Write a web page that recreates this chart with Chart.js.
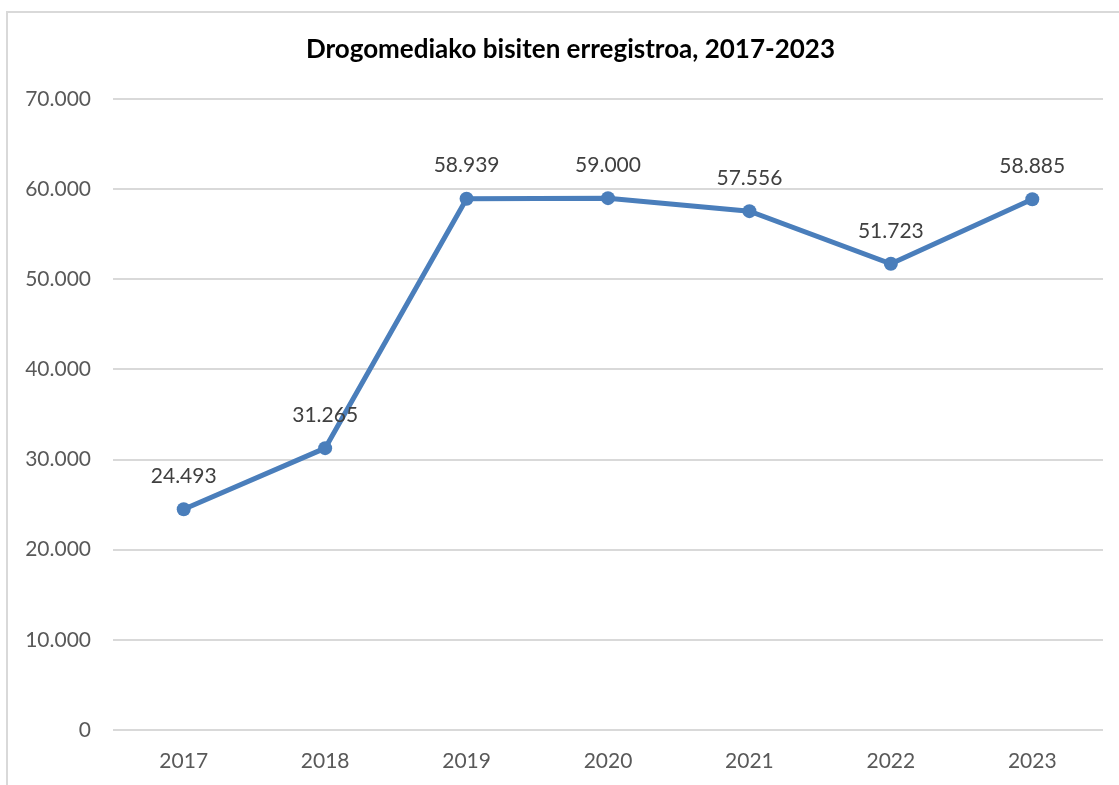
<!DOCTYPE html>
<html lang="eu">
<head>
    <meta charset="UTF-8">
    <title>Drogomediako bisiten erregistroa, 2017-2023</title>
    <script src="https://cdn.jsdelivr.net/npm/chart.js"></script>
    <style>
        html, body {
            margin: 0;
            padding: 0;
            background: #fff;
            overflow: hidden;
        }

        .frame {
            position: absolute;
            left: 6px;
            top: 11px;
            width: 1300px;
            height: 1000px;
            border: 2px solid #d9d9d9;
        }

        .wrap {
            position: absolute;
            left: 0;
            top: 0;
            width: 1119px;
            height: 785px;
        }
    </style>
</head>

<body>
    <div class="frame"></div>
    <div class="wrap">
        <canvas id="bisitakChart" width="1119" height="785"></canvas>
    </div>

    <script>
        const urteak = ['2017', '2018', '2019', '2020', '2021', '2022', '2023'];
        const bisitak = [24493, 31265, 58939, 59000, 57556, 51723, 58885];
        const izenburua = 'Drogomediako bisiten erregistroa, 2017-2023';

        const letra = 'Lato, "Open Sans", sans-serif';
        const urdina = '#4a7ebb';

        // 70000 -> "70.000"
        function formatua(n) {
            return String(Math.round(n)).replace(/\B(?=(\d{3})+(?!\d))/g, '.');
        }

        // izenburua (markoaren erdian) eta balioak puntuen gainean
        const etiketak = {
            id: 'etiketak',
            afterDatasetsDraw(chart) {
                const ctx = chart.ctx;
                const meta = chart.getDatasetMeta(0);
                ctx.save();
                ctx.textAlign = 'center';
                ctx.textBaseline = 'middle';

                ctx.font = 'bold 26px ' + letra;
                ctx.fillStyle = '#000';
                ctx.fillText(izenburua, (6 + chart.width + 16) / 2, 50);

                ctx.font = '21px ' + letra;
                ctx.fillStyle = '#404040';
                meta.data.forEach((pt, i) => {
                    ctx.fillText(formatua(bisitak[i]), pt.x, pt.y - 33);
                });
                ctx.restore();
            }
        };

        new Chart(document.getElementById('bisitakChart'), {
            type: 'line',
            data: {
                labels: urteak,
                datasets: [{
                    data: bisitak,
                    borderColor: urdina,
                    backgroundColor: urdina,
                    borderWidth: 5,
                    pointRadius: 7,
                    pointHoverRadius: 7,
                    pointBorderWidth: 0,
                    tension: 0
                }]
            },
            options: {
                responsive: false,
                animation: false,
                layout: {
                    padding: { left: 0, right: 16, top: 99, bottom: 13 }
                },
                plugins: {
                    legend: { display: false },
                    tooltip: { enabled: false },
                    title: { display: false }
                },
                scales: {
                    x: {
                        offset: true,
                        afterFit(scale) { scale.height = 42; },
                        grid: { display: false, drawTicks: false },
                        border: { display: false },
                        ticks: {
                            color: '#595959',
                            padding: 19,
                            font: { family: letra, size: 21 }
                        }
                    },
                    y: {
                        min: 0,
                        max: 70000,
                        afterFit(scale) { scale.width = 113; },
                        grid: { color: '#d9d9d9', lineWidth: 2, drawTicks: false },
                        border: { display: false },
                        ticks: {
                            stepSize: 10000,
                            color: '#595959',
                            padding: 22,
                            font: { family: letra, size: 21 },
                            callback: (v) => formatua(v)
                        }
                    }
                }
            },
            plugins: [etiketak]
        });
    </script>
</body>
</html>
